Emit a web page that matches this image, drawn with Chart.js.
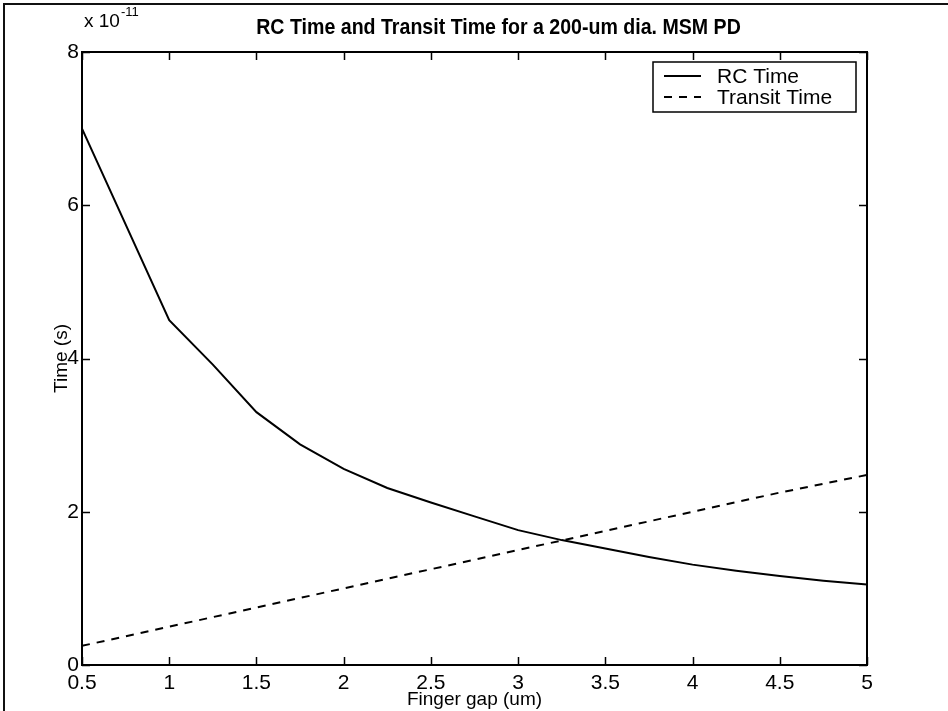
<!DOCTYPE html>
<html>
<head>
<meta charset="utf-8">
<title>RC Time and Transit Time</title>
<script src="https://cdn.jsdelivr.net/npm/chart.js@4.4.0/dist/chart.umd.min.js"></script>
<style>
  html, body { margin: 0; padding: 0; background: #fff; }
  canvas { display: block; }
</style>
</head>
<body>
<canvas id="myChart" width="948" height="711"></canvas>
<script>
// Finger gap (um) and times in units of 1e-11 s
const rcGap = [0.5, 1, 1.25, 1.5, 1.75, 2, 2.25, 2.5, 2.75, 3, 3.25, 3.5, 3.75, 4, 4.25, 4.5, 4.75, 5];
const rcTime = [7.0, 4.5, 3.92, 3.3, 2.88, 2.56, 2.31, 2.12, 1.94, 1.76, 1.63, 1.52, 1.41, 1.31, 1.23, 1.16, 1.10, 1.05];
const transitGap = [0.5, 1, 1.5, 2, 2.5, 3, 3.5, 4, 4.5, 5];
const transitTime = [0.25, 0.5, 0.75, 1.0, 1.25, 1.5, 1.75, 2.0, 2.25, 2.48];
const xTicks = [0.5, 1, 1.5, 2, 2.5, 3, 3.5, 4, 4.5, 5];
const yTicks = [0, 2, 4, 6, 8];

const FONT = '"Liberation Sans", Arial, Helvetica, sans-serif';

(() => {
  'use strict';

  const toPoints = (xs, ys) => xs.map((v, i) => ({ x: v, y: ys[i] }));

  // draws text squeezed horizontally, the scan uses a narrow Helvetica
  function narrowText(ctx, text, x, y, squeeze) {
    ctx.save();
    ctx.translate(x, y);
    ctx.scale(squeeze, 1);
    ctx.fillText(text, 0, 0);
    ctx.restore();
  }

  // box, inward ticks, legend, title and the x 10^-11 multiplier (MATLAB look)
  const matlabDecor = {
    id: 'matlabDecor',
    afterDraw(chart) {
      const { ctx, chartArea: a, scales } = chart;
      const xs = scales.x, ys = scales.y;
      ctx.save();

      // scanned page border
      ctx.strokeStyle = '#111';
      ctx.lineWidth = 2;
      ctx.beginPath();
      ctx.moveTo(4, 711);
      ctx.lineTo(4, 4);
      ctx.lineTo(948, 4);
      ctx.stroke();

      // axes box
      ctx.strokeStyle = '#000';
      ctx.lineWidth = 2;
      ctx.strokeRect(a.left, a.top, a.right - a.left, a.bottom - a.top);

      // ticks pointing inward on every side
      ctx.lineWidth = 1.5;
      ctx.beginPath();
      xTicks.forEach(v => {
        const px = Math.round(xs.getPixelForValue(v)) + 0.5;
        ctx.moveTo(px, a.bottom); ctx.lineTo(px, a.bottom - 8);
        ctx.moveTo(px, a.top); ctx.lineTo(px, a.top + 8);
      });
      yTicks.forEach(v => {
        const py = Math.round(ys.getPixelForValue(v)) + 0.5;
        ctx.moveTo(a.left, py); ctx.lineTo(a.left + 8, py);
        ctx.moveTo(a.right, py); ctx.lineTo(a.right - 8, py);
      });
      ctx.stroke();

      // legend box in the upper right corner
      const lw = 203, lh = 50;
      const lx = a.right - 11 - lw, ly = a.top + 10;
      ctx.fillStyle = '#fff';
      ctx.fillRect(lx, ly, lw, lh);
      ctx.lineWidth = 1.5;
      ctx.strokeRect(lx, ly, lw, lh);
      ctx.font = '21px ' + FONT;
      ctx.textBaseline = 'middle';
      ctx.textAlign = 'left';
      chart.data.datasets.forEach((ds, i) => {
        const rowY = ly + 14 + i * 21;
        ctx.strokeStyle = '#000';
        ctx.lineWidth = ds.borderWidth;
        ctx.setLineDash(ds.borderDash || []);
        ctx.beginPath();
        ctx.moveTo(lx + 11, rowY);
        ctx.lineTo(lx + 48, rowY);
        ctx.stroke();
        ctx.setLineDash([]);
        ctx.fillStyle = '#000';
        ctx.fillText(ds.label, lx + 64, rowY + 1);
      });

      // title
      ctx.font = 'bold 22px ' + FONT;
      ctx.textAlign = 'center';
      narrowText(ctx, 'RC Time and Transit Time for a 200-um dia. MSM PD', (a.left + a.right) / 2 + 24, 28, 0.89);

      // exponent of the y axis
      ctx.font = '19px ' + FONT;
      ctx.textAlign = 'left';
      ctx.fillText('x 10', a.left + 2, 22);
      const w = ctx.measureText('x 10').width;
      ctx.font = '13px ' + FONT;
      ctx.fillText('-11', a.left + 3 + w, 12);

      ctx.restore();
    }
  };

  const ctx = document.getElementById('myChart');
  // eslint-disable-next-line no-unused-vars
  const myChart = new Chart(ctx, {
    type: 'line',
    data: {
      datasets: [{
        label: 'RC Time',
        data: toPoints(rcGap, rcTime),
        borderColor: '#000',
        borderWidth: 2,
        pointRadius: 0,
        tension: 0,
        fill: false
      }, {
        label: 'Transit Time',
        data: toPoints(transitGap, transitTime),
        borderColor: '#000',
        borderWidth: 2,
        borderDash: [8, 7],
        pointRadius: 0,
        tension: 0,
        fill: false
      }]
    },
    options: {
      responsive: false,
      animation: false,
      layout: { padding: { top: 52, right: 81, left: 0, bottom: 0 } },
      plugins: {
        legend: { display: false },
        tooltip: { enabled: false },
        title: { display: false }
      },
      scales: {
        x: {
          type: 'linear',
          min: 0.5,
          max: 5,
          afterFit: scale => { scale.height = 46; },
          afterBuildTicks: scale => { scale.ticks = xTicks.map(v => ({ value: v })); },
          grid: { display: false, drawTicks: false },
          border: { display: false },
          ticks: {
            padding: 6,
            color: '#000',
            font: { family: FONT, size: 21 },
            callback: v => String(v)
          },
          title: {
            display: true,
            text: 'Finger gap (um)',
            color: '#000',
            font: { family: FONT, size: 19 },
            padding: { top: 0, bottom: 0 }
          }
        },
        y: {
          min: 0,
          max: 8,
          afterFit: scale => { scale.width = 82; },
          afterBuildTicks: scale => { scale.ticks = yTicks.map(v => ({ value: v })); },
          grid: { display: false, drawTicks: false },
          border: { display: false },
          ticks: {
            padding: 3,
            color: '#000',
            font: { family: FONT, size: 21 },
            callback: v => String(v)
          },
          title: {
            display: true,
            text: 'Time (s)',
            color: '#000',
            font: { family: FONT, size: 19 },
            padding: { top: 50, bottom: 0 }
          }
        }
      }
    },
    plugins: [matlabDecor]
  });
})();
</script>
</body>
</html>
